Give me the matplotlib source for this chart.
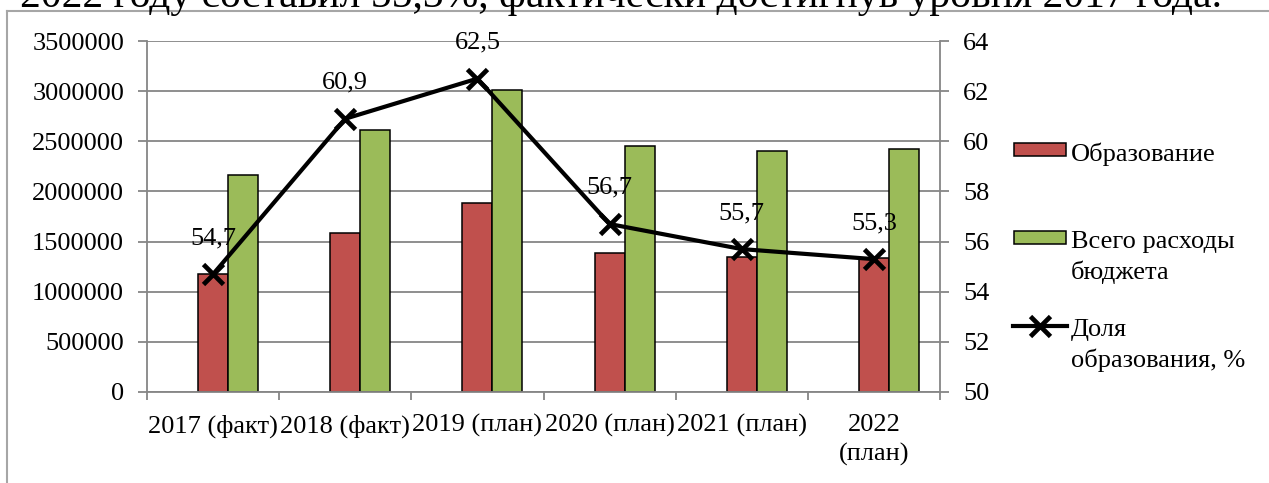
import numpy as np
import matplotlib
matplotlib.use('Agg')
import matplotlib.pyplot as plt
from matplotlib.patches import Rectangle
from matplotlib.lines import Line2D

plt.rcParams['font.family'] = ['Liberation Serif', 'DejaVu Serif']

# data
years = ['2017 (факт)', '2018 (факт)', '2019 (план)', '2020 (план)', '2021 (план)', '2022\n(план)']
education = [1180000, 1590000, 1885000, 1390000, 1345000, 1340000]
total_budget = [2160000, 2610000, 3010000, 2450000, 2405000, 2420000]
edu_share = [54.7, 60.9, 62.5, 56.7, 55.7, 55.3]
share_labels = ['54,7', '60,9', '62,5', '56,7', '55,7', '55,3']

names = ['Образование', 'Всего расходы\nбюджета', 'Доля\nобразования, %']
red = '#C0504D'
green = '#9BBB59'
grid_col = '#868686'
fs = 19

W, H = 1269, 483
fig = plt.figure(figsize=(W / 100, H / 100), dpi=100)

# piece of the document text above the chart (cut off at the top)
fig.text(20 / W, 1 - 7 / H, '2022 году составил 55,3%, фактически достигнув уровня 2017 года.',
         fontsize=30, va='baseline', ha='left')

# chart frame
fig.add_artist(Line2D([7 / W, 7 / W], [-0.1, 1 - 11 / H], transform=fig.transFigure,
                      color='#a6a6a6', lw=1.5))
fig.add_artist(Line2D([7 / W, 1.1], [1 - 11 / H, 1 - 11 / H], transform=fig.transFigure,
                      color='#a6a6a6', lw=1.5))

ax = fig.add_axes([147 / W, 1 - 392 / H, (940 - 147) / W, (392 - 41) / H])
x = np.arange(len(years))
bw = 0.227
ax.bar(x, education, bw, color=red, edgecolor='black', lw=1.1, zorder=2)
ax.bar(x + bw, total_budget, bw, color=green, edgecolor='black', lw=1.1, zorder=2)
ax.set_xlim(-0.5, len(years) - 0.5)
ax.set_ylim(0, 3500000)
yt = np.arange(0, 3500001, 500000)
ax.set_yticks(yt)
ax.set_yticklabels([str(v) for v in yt])
ax.yaxis.grid(True, color=grid_col, lw=1.3)
ax.set_axisbelow(True)
for s in ['top', 'right']:
    ax.spines[s].set_visible(False)
for s in ['left', 'bottom']:
    ax.spines[s].set_color(grid_col)
    ax.spines[s].set_linewidth(1.3)
ax.tick_params(axis='y', length=6.5, width=1.3, color=grid_col, pad=10, labelsize=fs)
ax.set_xticks(x)
ax.set_xticklabels(years, fontsize=fs, linespacing=1.4)
ax.set_xticks(np.arange(len(years) + 1) - 0.5, minor=True)
ax.tick_params(axis='x', which='major', length=0, pad=16)
ax.tick_params(axis='x', which='minor', length=6, width=1.3, color=grid_col)

ax2 = ax.twinx()
ax2.plot(x, edu_share, color='black', lw=3, marker='x', ms=14, mew=3.4, zorder=5)
ax2.set_ylim(50, 64)
ax2.set_yticks(np.arange(50, 65, 2))
for s in ['top', 'left', 'bottom']:
    ax2.spines[s].set_visible(False)
ax2.spines['right'].set_color(grid_col)
ax2.spines['right'].set_linewidth(1.3)
ax2.tick_params(axis='y', length=6.5, width=1.3, color=grid_col, pad=10, labelsize=fs)
for xi, v, lab in zip(x, edu_share, share_labels):
    ax2.annotate(lab, (xi, v), xytext=(0, 26), textcoords='offset points',
                 ha='center', va='center', fontsize=fs)

# legend drawn by hand, Excel style
tf = fig.transFigure
fig.add_artist(Rectangle((1014 / W, 1 - 156 / H), 52 / W, 13 / H, transform=tf,
                         facecolor=red, edgecolor='black', lw=1.1))
fig.add_artist(Rectangle((1014 / W, 1 - 244 / H), 52 / W, 13 / H, transform=tf,
                         facecolor=green, edgecolor='black', lw=1.1))
fig.add_artist(Line2D([1013 / W, 1067 / W], [1 - 326 / H, 1 - 326 / H], transform=tf,
                      color='black', lw=3))
fig.add_artist(Line2D([1040 / W], [1 - 326 / H], transform=tf, color='black',
                      marker='x', ms=14, mew=3.4))
for yy, name in zip([152, 240, 328], names):
    n = name.count('\n')
    fig.text(1071 / W, 1 - (yy + 9 + 30 * n) / H, name, fontsize=fs, ha='left',
             va='baseline', linespacing=1.39)

fig.savefig('out.png', dpi=100)
